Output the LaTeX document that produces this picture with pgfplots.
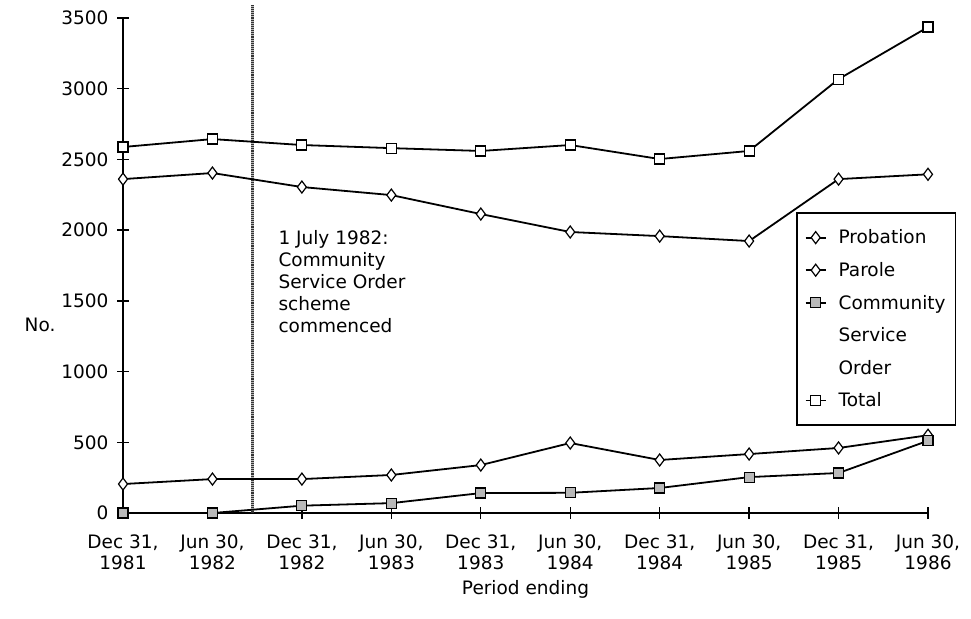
\documentclass[border=0pt]{standalone}
\usepackage{pgfplots}
\pgfplotsset{compat=1.18}
\usepackage{fontspec}
\setmainfont{DejaVu Sans}
\newcommand{\chfont}{\fontsize{18.5}{21}\selectfont}
\begin{document}
\begin{tikzpicture}
\begin{axis}[
  scale only axis, width=805pt, height=495pt,
  xmin=0, xmax=9, ymin=0, ymax=3500,
  axis x line=bottom, axis y line=left,
  axis line style={-, line width=1.6pt},
  xtick={0,...,9},
  xticklabels={{Dec 31,\\1981},{Jun 30,\\1982},{Dec 31,\\1982},{Jun 30,\\1983},{Dec 31,\\1983},{Jun 30,\\1984},{Dec 31,\\1984},{Jun 30,\\1985},{Dec 31,\\1985},{Jun 30,\\1986}},
  xticklabel style={align=center, font=\chfont, yshift=-12pt},
  ytick={0,500,...,3500},
  tick align=center, major tick length=12pt,
  tick style={line width=1.4pt, black},
  /pgf/number format/assume math mode=true,
  /pgf/number format/1000 sep={},
  yticklabel style={font=\chfont, xshift=-5pt},
  xlabel={Period ending},
  xlabel style={font=\chfont, yshift=-4pt},
  clip=false,
  legend style={at={(rel axis cs:0.836,0.608)}, anchor=north west, draw=black, line width=1.6pt,
    font=\chfont, cells={anchor=west}, row sep=13pt, column sep=10pt, inner xsep=8pt, inner ysep=15pt},
  legend cell align=left,
  legend image code/.code={%
    \draw[#1, mark=none] (0pt,0pt) -- (20pt,0pt);
    \draw[#1, only marks] plot coordinates {(10pt,0pt)};
  },
]
% vertical marker line (1 July 1982)
\addplot[forget plot, gray!55, line width=3.5pt] coordinates {(1.45,0) (1.45,3590)};
\addplot[forget plot, black!80, line width=3.5pt, dash pattern=on 0.6pt off 1.3pt] coordinates {(1.45,0) (1.45,3590)};

% Probation
\addplot[black, line width=1.8pt, mark=diamond*, mark size=6pt, mark options={fill=white, line width=1.2pt}]
  coordinates {(0,2361) (1,2404) (2,2305) (3,2248) (4,2114) (5,1987) (6,1958) (7,1923) (8,2361) (9,2395)};
\addlegendentry{Probation}
% Parole
\addplot[black, line width=1.8pt, mark=diamond*, mark size=6pt, mark options={fill=white, line width=1.2pt}]
  coordinates {(0,205) (1,240) (2,240) (3,269) (4,339) (5,495) (6,375) (7,417) (8,460) (9,550)};
\addlegendentry{Parole}
% Community Service Order
\addplot[black, line width=1.8pt, mark=square*, mark size=5pt, mark options={fill=gray!55, line width=1.2pt}]
  coordinates {(0,0) (1,0) (2,52) (3,70) (4,141) (5,143) (6,177) (7,254) (8,283) (9,511)};
\addlegendentry{Community}
\addlegendimage{empty legend}
\addlegendentry{Service}
\addlegendimage{empty legend}
\addlegendentry{Order}
% Total
\addplot[black, line width=1.8pt, mark=square*, mark size=5pt, mark options={fill=white, line width=1.2pt}]
  coordinates {(0,2588) (1,2644) (2,2602) (3,2580) (4,2560) (5,2602) (6,2503) (7,2560) (8,3068) (9,3436)};
\addlegendentry{Total}

\node[anchor=north west, align=left, font=\fontsize{18.5}{22}\selectfont] at (rel axis cs:0.1888,0.578)
  {1 July 1982:\\Community\\Service Order\\scheme\\commenced};
\node[font=\chfont] at (rel axis cs:-0.103,0.38) {No.};
\path (rel axis cs:-0.1528,1.0364) rectangle (rel axis cs:1.0534,-0.2121);
\end{axis}
\end{tikzpicture}
\end{document}
